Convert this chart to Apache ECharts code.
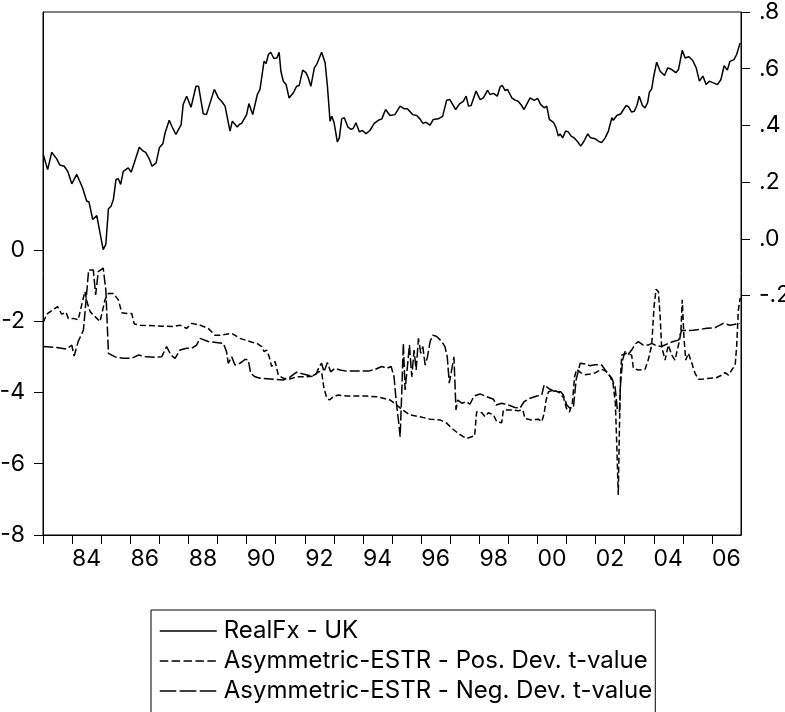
<!DOCTYPE html>
<html><head><meta charset="utf-8">
<script src="https://cdn.jsdelivr.net/npm/echarts@6/dist/echarts.min.js"></script>
<style>html,body{margin:0;padding:0;background:#fff}#c{width:785px;height:712px}</style>
</head><body><div id="c"></div>
<script>
// RealFx - UK (right axis)
const realfxDates = [1983.01,1983.16,1983.30,1983.47,1983.58,1983.73,1983.85,1983.99,1984.16,1984.36,1984.50,1984.58,1984.71,1984.85,1984.96,1985.07,1985.16,1985.25,1985.34,1985.42,1985.51,1985.59,1985.67,1985.76,1985.93,1986.03,1986.14,1986.31,1986.45,1986.53,1986.65,1986.75,1986.89,1987.00,1987.12,1987.20,1987.34,1987.43,1987.57,1987.75,1987.82,1987.94,1988.09,1988.26,1988.35,1988.51,1988.62,1988.68,1988.89,1989.03,1989.14,1989.26,1989.31,1989.43,1989.51,1989.68,1989.75,1989.83,1990.00,1990.08,1990.21,1990.37,1990.46,1990.60,1990.67,1990.75,1990.83,1990.94,1991.04,1991.12,1991.18,1991.26,1991.36,1991.46,1991.52,1991.61,1991.72,1991.81,1991.93,1992.04,1992.12,1992.21,1992.33,1992.41,1992.58,1992.70,1992.78,1992.87,1992.93,1993.01,1993.12,1993.19,1993.27,1993.36,1993.48,1993.59,1993.67,1993.76,1993.88,1993.98,1994.11,1994.24,1994.39,1994.53,1994.65,1994.78,1994.93,1995.10,1995.28,1995.41,1995.53,1995.71,1995.85,1995.96,1996.06,1996.17,1996.31,1996.42,1996.59,1996.74,1996.88,1996.99,1997.19,1997.32,1997.45,1997.55,1997.63,1997.72,1997.89,1998.03,1998.14,1998.29,1998.37,1998.49,1998.62,1998.72,1998.79,1998.89,1998.97,1999.12,1999.23,1999.34,1999.43,1999.54,1999.63,1999.75,1999.89,2000.01,2000.11,2000.23,2000.32,2000.41,2000.55,2000.64,2000.72,2000.78,2000.87,2000.97,2001.06,2001.16,2001.26,2001.37,2001.49,2001.60,2001.73,2001.83,2001.98,2002.10,2002.21,2002.33,2002.44,2002.56,2002.61,2002.73,2002.87,2002.96,2003.05,2003.13,2003.24,2003.33,2003.42,2003.50,2003.61,2003.70,2003.79,2003.85,2003.93,2003.99,2004.10,2004.22,2004.37,2004.48,2004.62,2004.76,2004.85,2004.98,2005.08,2005.21,2005.34,2005.46,2005.57,2005.69,2005.80,2005.91,2006.05,2006.19,2006.31,2006.42,2006.53,2006.62,2006.76,2006.85,2006.97];
const realfxValues = [0.297,0.244,0.305,0.282,0.260,0.256,0.238,0.194,0.227,0.180,0.133,0.130,0.068,0.082,0.021,-0.038,-0.020,0.106,0.115,0.139,0.209,0.212,0.192,0.238,0.250,0.235,0.268,0.323,0.309,0.305,0.283,0.256,0.268,0.321,0.335,0.374,0.418,0.397,0.368,0.403,0.474,0.503,0.464,0.538,0.538,0.441,0.438,0.432,0.527,0.497,0.485,0.468,0.466,0.380,0.415,0.394,0.403,0.407,0.438,0.477,0.438,0.509,0.527,0.626,0.618,0.650,0.658,0.636,0.638,0.658,0.591,0.556,0.544,0.497,0.491,0.515,0.538,0.541,0.595,0.586,0.568,0.538,0.603,0.615,0.658,0.621,0.538,0.415,0.432,0.409,0.342,0.356,0.423,0.427,0.395,0.386,0.390,0.409,0.377,0.382,0.371,0.382,0.407,0.418,0.423,0.456,0.435,0.438,0.468,0.459,0.459,0.438,0.435,0.423,0.407,0.411,0.401,0.421,0.423,0.432,0.489,0.491,0.456,0.476,0.485,0.503,0.468,0.470,0.521,0.491,0.497,0.524,0.509,0.513,0.503,0.536,0.541,0.523,0.527,0.497,0.489,0.485,0.474,0.456,0.474,0.497,0.488,0.495,0.474,0.462,0.468,0.421,0.411,0.392,0.362,0.370,0.356,0.380,0.377,0.362,0.356,0.344,0.327,0.344,0.370,0.356,0.353,0.344,0.339,0.356,0.380,0.427,0.418,0.435,0.441,0.456,0.470,0.466,0.447,0.450,0.470,0.503,0.470,0.462,0.480,0.517,0.529,0.568,0.623,0.591,0.576,0.603,0.597,0.586,0.597,0.665,0.638,0.642,0.629,0.603,0.556,0.574,0.544,0.556,0.550,0.544,0.562,0.611,0.595,0.626,0.632,0.650,0.691];

// Asymmetric-ESTR - Pos. Dev. t-value (left axis)
const posDates = [1983.01,1983.13,1983.30,1983.50,1983.64,1983.79,1983.87,1984.04,1984.21,1984.33,1984.44,1984.53,1984.62,1984.73,1984.85,1984.96,1985.04,1985.13,1985.25,1985.42,1985.59,1985.71,1985.88,1986.05,1986.14,1986.34,1986.91,1987.48,1987.71,1987.94,1988.11,1988.40,1988.68,1988.91,1989.09,1989.49,1989.77,1990.23,1990.35,1990.52,1990.60,1990.69,1990.78,1990.86,1990.98,1991.09,1991.26,1991.49,1991.72,1992.01,1992.29,1992.47,1992.58,1992.66,1992.76,1992.85,1992.98,1993.15,1993.44,1993.79,1994.13,1994.48,1994.70,1994.93,1995.16,1995.33,1995.62,1995.96,1996.31,1996.65,1996.88,1997.05,1997.28,1997.45,1997.57,1997.74,1997.84,1997.91,1998.09,1998.20,1998.31,1998.49,1998.60,1998.77,1998.83,1999.06,1999.34,1999.50,1999.57,1999.80,2000.03,2000.15,2000.23,2000.30,2000.38,2000.55,2000.75,2000.90,2001.00,2001.10,2001.20,2001.28,2001.35,2001.50,2001.65,2001.81,2001.98,2002.21,2002.35,2002.50,2002.60,2002.68,2002.73,2002.78,2002.82,2002.86,2002.90,2003.07,2003.24,2003.30,2003.47,2003.70,2003.81,2003.93,2004.01,2004.08,2004.16,2004.22,2004.27,2004.39,2004.50,2004.62,2004.73,2004.85,2004.93,2004.98,2005.04,2005.10,2005.19,2005.31,2005.42,2005.54,2005.71,2005.94,2006.17,2006.34,2006.45,2006.57,2006.68,2006.80,2006.85,2006.91,2006.97];
const posValues = [-2.03,-1.80,-1.70,-1.59,-1.80,-1.75,-1.92,-1.92,-1.96,-1.54,-1.17,-1.50,-1.73,-1.82,-1.92,-2.01,-1.73,-1.40,-1.22,-1.22,-1.40,-1.76,-1.78,-1.78,-2.08,-2.11,-2.13,-2.15,-2.11,-2.20,-2.06,-2.11,-2.20,-2.39,-2.39,-2.34,-2.48,-2.60,-2.62,-2.71,-2.85,-2.81,-3.00,-3.27,-3.13,-3.51,-3.60,-3.62,-3.56,-3.56,-3.54,-3.42,-3.42,-3.88,-4.16,-4.21,-4.12,-4.07,-4.10,-4.10,-4.10,-4.12,-4.16,-4.21,-4.35,-4.47,-4.63,-4.68,-4.75,-4.77,-4.86,-5.00,-5.15,-5.24,-5.29,-5.24,-5.22,-4.54,-4.57,-4.68,-4.57,-4.63,-4.82,-4.85,-4.49,-4.49,-4.51,-4.49,-4.73,-4.77,-4.75,-4.82,-4.59,-4.21,-3.98,-3.93,-4.00,-4.15,-4.45,-4.55,-4.30,-3.55,-3.35,-3.45,-3.50,-3.48,-3.45,-3.35,-3.40,-3.55,-3.75,-4.30,-5.50,-6.88,-5.00,-3.50,-2.95,-2.90,-2.95,-3.32,-3.37,-3.35,-3.09,-2.67,-1.59,-1.10,-1.17,-1.87,-2.71,-3.09,-2.67,-2.95,-3.09,-2.67,-2.34,-1.40,-2.48,-3.09,-2.90,-3.18,-3.46,-3.63,-3.62,-3.60,-3.58,-3.51,-3.44,-3.51,-3.37,-3.23,-2.71,-1.68,-1.35];

// Asymmetric-ESTR - Neg. Dev. t-value (left axis)
const negDates = [1983.01,1983.47,1983.81,1983.99,1984.07,1984.21,1984.39,1984.50,1984.57,1984.73,1984.81,1984.90,1985.07,1985.16,1985.25,1985.48,1985.76,1986.05,1986.28,1986.57,1986.85,1987.08,1987.25,1987.40,1987.54,1987.71,1987.94,1988.11,1988.28,1988.40,1988.68,1989.20,1989.31,1989.37,1989.49,1989.60,1989.77,1989.95,1990.06,1990.14,1990.29,1990.46,1990.81,1991.26,1991.49,1991.72,1991.95,1992.24,1992.39,1992.50,1992.58,1992.66,1992.78,1992.89,1993.04,1993.21,1993.44,1993.79,1994.19,1994.42,1994.65,1994.82,1994.97,1995.07,1995.14,1995.22,1995.28,1995.33,1995.39,1995.45,1995.53,1995.60,1995.68,1995.76,1995.83,1995.91,1995.99,1996.06,1996.14,1996.22,1996.31,1996.40,1996.54,1996.71,1996.82,1996.90,1996.97,1997.05,1997.13,1997.20,1997.26,1997.40,1997.57,1997.68,1997.82,1998.03,1998.26,1998.49,1998.58,1998.77,1999.00,1999.23,1999.40,1999.54,1999.75,1999.98,2000.15,2000.23,2000.43,2000.61,2000.80,2000.89,2001.01,2001.12,2001.24,2001.33,2001.47,2001.64,2001.81,2001.98,2002.21,2002.38,2002.56,2002.67,2002.75,2002.82,2002.86,2002.93,2003.01,2003.13,2003.24,2003.36,2003.47,2003.64,2003.81,2003.93,2004.10,2004.27,2004.50,2004.67,2004.85,2004.96,2005.13,2005.36,2005.59,2005.82,2006.11,2006.39,2006.62,2006.97];
const negValues = [-2.71,-2.74,-2.78,-2.67,-2.98,-2.57,-2.25,-1.22,-0.56,-0.56,-1.26,-0.61,-0.51,-1.12,-2.90,-3.00,-3.04,-3.04,-2.95,-3.00,-3.01,-3.00,-2.71,-2.95,-3.04,-2.81,-2.76,-2.76,-2.67,-2.48,-2.57,-2.62,-2.85,-3.18,-3.00,-3.23,-3.18,-3.07,-3.09,-3.46,-3.56,-3.60,-3.62,-3.65,-3.57,-3.43,-3.48,-3.54,-3.48,-3.27,-3.18,-3.42,-3.16,-3.42,-3.32,-3.37,-3.40,-3.40,-3.40,-3.35,-3.27,-3.32,-3.27,-3.56,-4.21,-4.77,-5.24,-4.12,-2.62,-3.93,-3.27,-2.67,-3.56,-2.81,-3.37,-2.48,-2.90,-2.71,-3.23,-3.00,-2.57,-2.39,-2.43,-2.57,-2.71,-3.00,-3.74,-3.37,-3.00,-4.49,-4.21,-4.30,-4.26,-4.33,-4.10,-4.04,-4.12,-4.19,-4.35,-4.30,-4.35,-4.42,-4.44,-4.26,-4.16,-4.10,-4.07,-3.79,-3.91,-3.98,-3.98,-4.07,-4.35,-4.44,-4.40,-3.65,-3.18,-3.20,-3.25,-3.22,-3.23,-3.42,-3.60,-3.84,-4.49,-4.54,-3.74,-3.09,-2.85,-2.92,-2.81,-2.64,-2.57,-2.67,-2.67,-2.62,-2.69,-2.71,-2.62,-2.57,-2.53,-2.25,-2.26,-2.25,-2.23,-2.20,-2.18,-2.06,-2.11,-2.06];

// Axis ticks and labels
const yearTicks = [1983,1984,1985,1986,1987,1988,1989,1990,1991,1992,1993,1994,1995,1996,1997,1998,1999,2000,2001,2002,2003,2004,2005,2006];
const yearLabelPos = [1984.5,1986.5,1988.5,1990.5,1992.5,1994.5,1996.5,1998.5,2000.5,2002.5,2004.5,2006.5];
const leftTicks = [-8,-6,-4,-2,0];
const rightTicks = [-0.2,0,0.2,0.4,0.6,0.8];

const seriesNames = ['RealFx - UK','Asymmetric-ESTR - Pos. Dev. t-value','Asymmetric-ESTR - Neg. Dev. t-value'];

function pairs(d, v) { return d.map(function (x, i) { return [x, v[i]]; }); }

const FONT = 'Inter, "Liberation Sans", Arial, sans-serif';
const FS = 23;
const NOFILL = 'rgba(0,0,0,0)';
const chart = echarts.init(document.getElementById('c'), null, { renderer: 'canvas' });
chart.setOption({
  animation: false,
  backgroundColor: '#ffffff',
  textStyle: { fontFamily: FONT, color: '#000' },
  grid: { left: 43, right: 44, top: 12, bottom: 177, show: true, borderColor: '#000', borderWidth: 1,
    backgroundColor: 'transparent', containLabel: false, outerBoundsMode: 'none' },
  legend: {
    orient: 'vertical', left: 151, top: 610, height: 200,
    itemWidth: 57, itemHeight: 12, itemGap: 6,
    padding: [9, 3, 14, 8],
    borderColor: '#000', borderWidth: 1,
    backgroundColor: '#fff',
    itemStyle: { color: NOFILL, borderWidth: 0 },
    textStyle: { fontFamily: FONT, fontSize: 24, color: '#000', lineHeight: 24, padding: [0, 0, 0, 2] },
    data: [
      { name: seriesNames[0], lineStyle: { type: 'solid', width: 1.5 } },
      { name: seriesNames[1], lineStyle: { type: [8.5, 3.4], width: 1.5 } },
      { name: seriesNames[2], lineStyle: { type: [16.5, 3.5], width: 1.5 } }
    ]
  },
  xAxis: {
    type: 'value', min: 1983, max: 2007,
    splitLine: { show: false },
    axisLine: { show: true, onZero: false, lineStyle: { color: '#000', width: 1 } },
    axisTick: { show: true, inside: false, length: 9, lineStyle: { color: '#000', width: 1 }, customValues: yearTicks },
    axisLabel: { customValues: yearLabelPos, margin: 13, fontSize: FS, fontFamily: FONT, color: '#000',
      formatter: function (v) { return String(Math.floor(v)).slice(2); } }
  },
  yAxis: [
    {
      type: 'value', position: 'left', min: -8, max: 6.68,
      splitLine: { show: false },
      axisLine: { show: true, onZero: false, lineStyle: { color: '#000', width: 1 } },
      axisTick: { show: true, inside: false, length: 9, lineStyle: { color: '#000', width: 1 }, customValues: leftTicks },
      axisLabel: { customValues: leftTicks, margin: 18, fontSize: FS, fontFamily: FONT, color: '#000',
        formatter: function (v) { return String(v); } }
    },
    {
      type: 'value', position: 'right', min: -1.045, max: 0.8,
      splitLine: { show: false },
      axisLine: { show: true, onZero: false, lineStyle: { color: '#000', width: 1 } },
      axisTick: { show: true, inside: false, length: 9, lineStyle: { color: '#000', width: 1 }, customValues: rightTicks },
      axisLabel: { customValues: rightTicks, margin: 18, fontSize: FS, fontFamily: FONT, color: '#000',
        formatter: function (v) { return (v < -1e-9 ? '-' : '') + '.' + Math.round(Math.abs(v) * 10); } }
    }
  ],
  series: [
    { name: seriesNames[0], type: 'line', yAxisIndex: 1, data: pairs(realfxDates, realfxValues),
      symbol: 'none', lineStyle: { color: '#000', width: 1.5, type: 'solid' }, itemStyle: { color: NOFILL } },
    { name: seriesNames[1], type: 'line', yAxisIndex: 0, data: pairs(posDates, posValues),
      symbol: 'none', lineStyle: { color: '#000', width: 1.5, type: [6, 3] }, itemStyle: { color: NOFILL } },
    { name: seriesNames[2], type: 'line', yAxisIndex: 0, data: pairs(negDates, negValues),
      symbol: 'none', lineStyle: { color: '#000', width: 1.5, type: [10, 3] }, itemStyle: { color: NOFILL } }
  ]
});
</script></body></html>
